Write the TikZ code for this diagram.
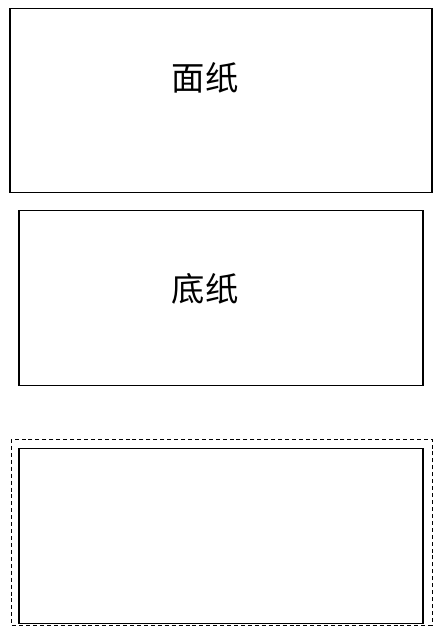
\documentclass[tikz,border=0pt]{standalone}
\usepackage{fontspec}
\newfontfamily\cjk{Noto Sans CJK SC}
\begin{document}
\begin{tikzpicture}[x=0.75pt,y=-0.75pt,
  paper/.style={draw=black,line width=0.8pt},
  cutline/.style={draw=black,line width=0.7pt,dash pattern=on 3pt off 2.2pt},
  lbl/.style={font=\cjk\fontsize{25}{29}\selectfont,inner sep=0pt}]
\useasboundingbox (0,0) rectangle (440,631);
\fill[white] (0,0) rectangle (440,631);
\draw[paper] (10,8.5) rectangle (432,192.5);
\node[lbl] (mian) at (205,78) {面纸};
\draw[paper] (19,210.5) rectangle (423,385.5);
\node[lbl] (di) at (205,289) {底纸};
\draw[cutline] (11,439) rectangle (432,625);
\draw[paper] (19,448.5) rectangle (423,623.5);
\end{tikzpicture}
\end{document}
